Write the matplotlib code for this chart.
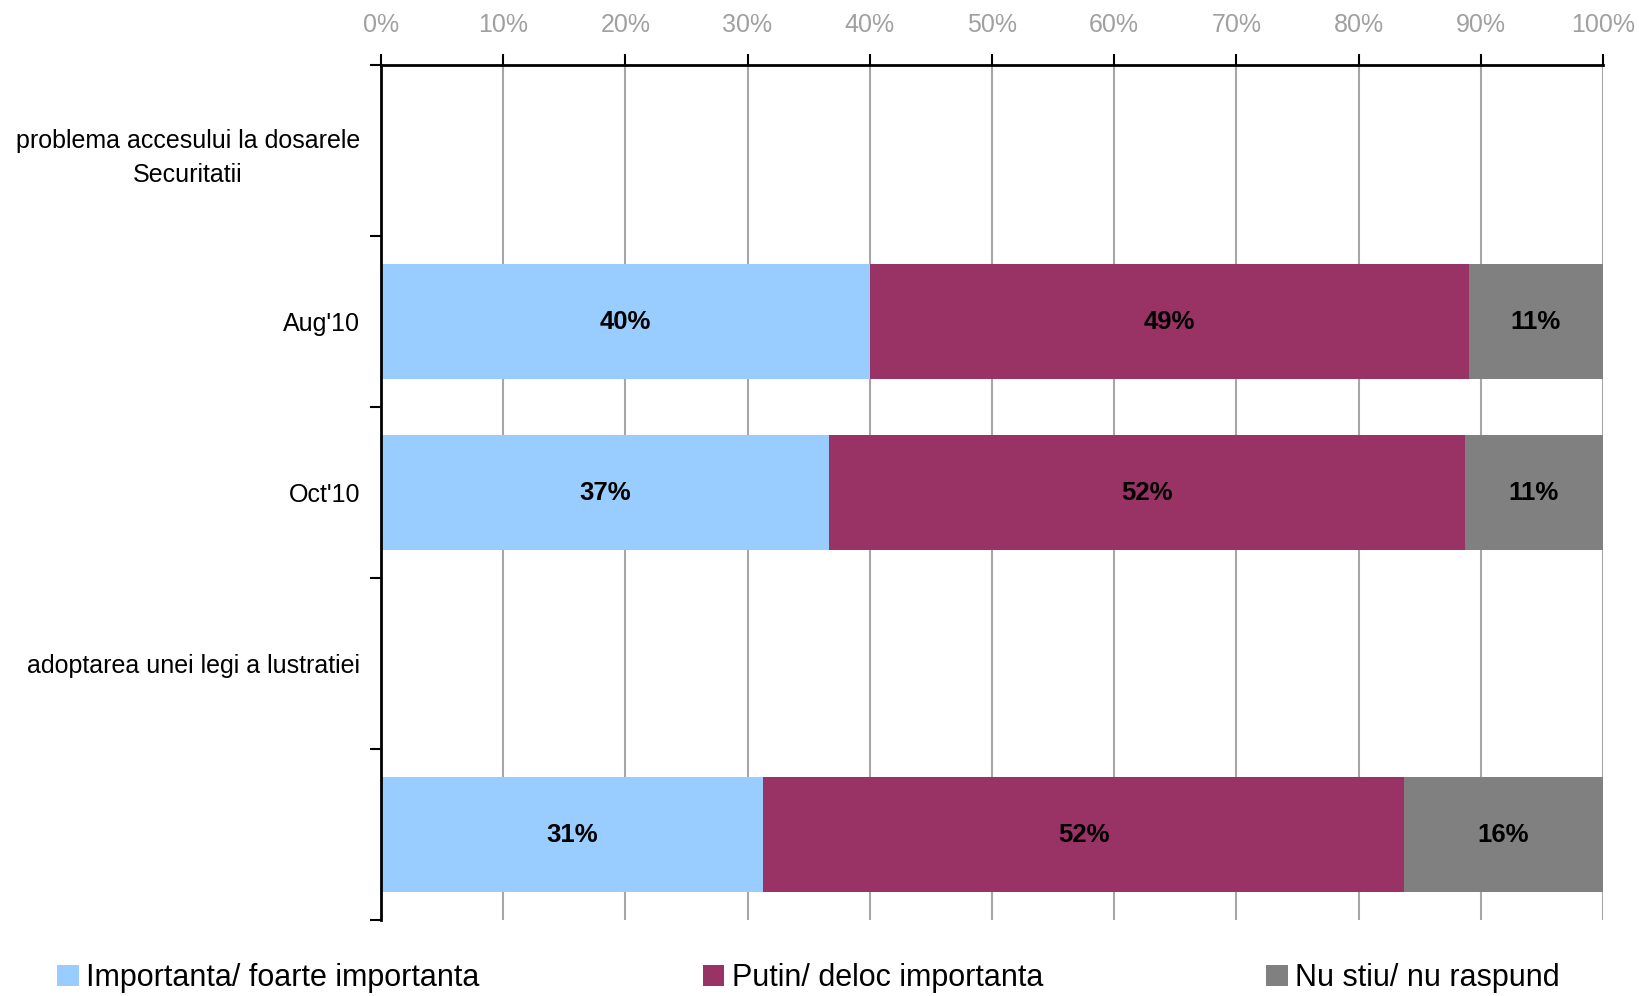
import matplotlib
matplotlib.use('Agg')
import matplotlib.pyplot as plt
import numpy as np

plt.rcParams['font.family'] = ['Liberation Sans', 'DejaVu Sans']

# date (procente)
categorii = ['problema accesului la dosarele\nSecuritatii', "Aug'10", "Oct'10",
             'adoptarea unei legi a lustratiei', '']
importanta = [0, 40.0, 36.7, 0, 31.3]
putin = [0, 49.0, 52.0, 0, 52.4]
nu_stiu = [0, 11.0, 11.3, 0, 16.3]
serii = ['Importanta/ foarte importanta', 'Putin/ deloc importanta', 'Nu stiu/ nu raspund']
culori = ['#99CCFF', '#993366', '#808080']

fig = plt.figure(figsize=(16.4, 9.96), dpi=100)
ax = fig.add_axes([0.2323, 0.0763, 0.9774 - 0.2323, 0.9347 - 0.0763])

y = np.arange(len(categorii))
stanga = np.zeros(len(categorii))
for vals, nume, cul in zip([importanta, putin, nu_stiu], serii, culori):
    vals = np.array(vals)
    ax.barh(y, vals, left=stanga, height=0.67, color=cul, label=nume, zorder=2)
    for i, v in enumerate(vals):
        if v > 0:
            ax.text(stanga[i] + v / 2, y[i], f'{v:.0f}%', ha='center', va='center',
                    fontsize=18.5, fontweight='bold', color='black', zorder=3)
    stanga += vals

ax.set_xlim(0, 100)
ax.set_ylim(len(categorii) - 0.5, -0.5)

# axa x sus
ax.xaxis.tick_top()
ax.set_xticks(np.arange(0, 101, 10))
ax.set_xticklabels([f'{t}%' for t in range(0, 101, 10)])
ax.tick_params(axis='x', colors='black', labelcolor='#A0A0A0', labelsize=18,
               length=8, width=1.5, direction='out', pad=12)
ax.grid(axis='x', color='#A6A6A6', linewidth=1.5, zorder=0)
ax.set_axisbelow(True)

# axa y: tick-uri la granite, etichete la centre
ax.set_yticks(np.arange(-0.5, len(categorii) + 0.5, 1))
ax.set_yticklabels([])
ax.set_yticks(y, minor=True)
ax.set_yticklabels(categorii, minor=True, multialignment='center', linespacing=1.5)
ax.tick_params(axis='y', which='major', length=8, width=1.5, direction='out')
ax.tick_params(axis='y', which='minor', length=0, labelsize=18, pad=15)

for s in ['right', 'bottom']:
    ax.spines[s].set_visible(False)
ax.spines['top'].set_linewidth(2)
ax.spines['left'].set_linewidth(2)
ax.spines['top'].set_zorder(4)

fig.legend(loc='center left', bbox_to_anchor=(0.035, 0.018), ncol=3, frameon=False,
           fontsize=22, handlelength=0.7, handleheight=0.7, handletextpad=0.25,
           columnspacing=7.3, borderpad=0, borderaxespad=0)

fig.savefig('out.png', dpi=100)
